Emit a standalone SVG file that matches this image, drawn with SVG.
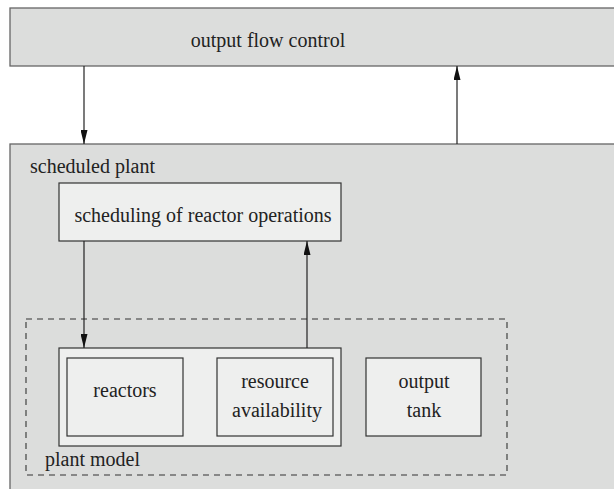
<svg xmlns="http://www.w3.org/2000/svg" width="614" height="489" viewBox="0 0 614 489">
<defs>
<marker id="ah" viewBox="0 0 14 7" refX="14" refY="3.5" markerWidth="14" markerHeight="7" markerUnits="userSpaceOnUse" orient="auto">
<path d="M0,0 L14,3.5 L0,7 z" fill="#111"/>
</marker>
<style>
.outer{fill:#dcdddc;stroke:#666;stroke-width:1.3}
.inner{fill:#eeefee;stroke:#333;stroke-width:1.2}
.conn{stroke:#222;stroke-width:1.2;fill:none}
</style>
</defs>
<rect width="614" height="489" fill="#fff"/>
<g id="output-flow-control">
<rect class="outer" x="10" y="8" width="620" height="58"/>
<text x="268" y="47" text-anchor="middle" font-family="Liberation Serif" font-size="20" fill="#222">output flow control</text>
</g>
<g id="scheduled-plant">
<rect class="outer" x="10" y="144" width="620" height="360"/>
<text x="30" y="173" font-family="Liberation Serif" font-size="20" fill="#222">scheduled plant</text>
</g>
<g id="scheduling">
<rect class="inner" x="59" y="183" width="282" height="58"/>
<text x="203" y="222" text-anchor="middle" font-family="Liberation Serif" font-size="20" fill="#222">scheduling of reactor operations</text>
</g>
<g id="plant-model">
<rect x="26" y="319" width="481" height="156" fill="none" stroke="#333" stroke-width="1.1" stroke-dasharray="6,5"/>
<text x="45" y="466" font-family="Liberation Serif" font-size="20" fill="#222">plant model</text>
</g>
<g id="plant-inner">
<rect class="inner" x="59" y="348" width="282" height="98"/>
</g>
<g id="reactors">
<rect class="inner" x="67" y="358" width="116" height="78"/>
<text x="125" y="397" text-anchor="middle" font-family="Liberation Serif" font-size="20" fill="#222">reactors</text>
</g>
<g id="resource-availability">
<rect class="inner" x="217" y="358" width="116" height="78"/>
<text x="275" y="388" text-anchor="middle" font-family="Liberation Serif" font-size="20" fill="#222">resource</text>
<text x="277" y="417" text-anchor="middle" font-family="Liberation Serif" font-size="20" fill="#222">availability</text>
</g>
<g id="output-tank">
<rect class="inner" x="366" y="358" width="115" height="78" fill="#e4e5e4"/>
<text x="424" y="388" text-anchor="middle" font-family="Liberation Serif" font-size="20" fill="#222">output</text>
<text x="424" y="417" text-anchor="middle" font-family="Liberation Serif" font-size="20" fill="#222">tank</text>
</g>
<g id="connectors">
<line class="conn" x1="84" y1="66" x2="84" y2="144" marker-end="url(#ah)"/>
<line class="conn" x1="457" y1="144" x2="457" y2="66" marker-end="url(#ah)"/>
<line class="conn" x1="84" y1="241" x2="84" y2="348" marker-end="url(#ah)"/>
<line class="conn" x1="307" y1="348" x2="307" y2="241" marker-end="url(#ah)"/>
</g>
</svg>
